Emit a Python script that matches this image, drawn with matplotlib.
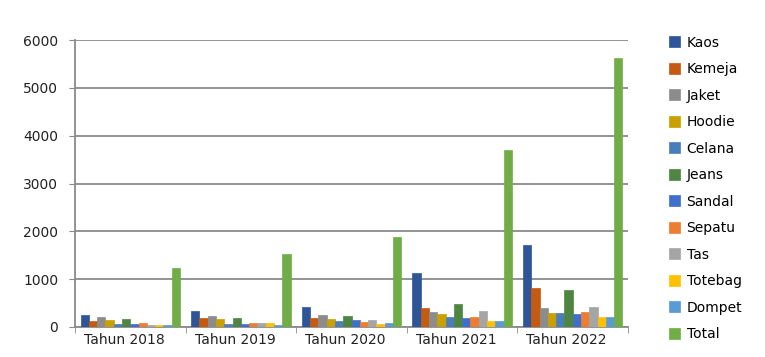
import matplotlib
matplotlib.use("Agg")
import matplotlib.pyplot as plt
import matplotlib.transforms as mtransforms
import numpy as np

years = ["Tahun 2018", "Tahun 2019", "Tahun 2020", "Tahun 2021", "Tahun 2022"]
series_names = ["Kaos", "Kemeja", "Jaket", "Hoodie", "Celana", "Jeans",
                "Sandal", "Sepatu", "Tas", "Totebag", "Dompet", "Total"]
kaos    = [250, 330, 420, 1130, 1710]
kemeja  = [130, 190, 190, 400, 810]
jaket   = [210, 230, 250, 320, 400]
hoodie  = [150, 170, 170, 280, 300]
celana  = [70, 70, 120, 210, 300]
jeans   = [170, 190, 230, 480, 770]
sandal  = [70, 70, 140, 190, 270]
sepatu  = [90, 90, 110, 200, 310]
tas     = [50, 80, 140, 330, 420]
totebag = [50, 90, 70, 130, 210]
dompet  = [40, 50, 90, 120, 210]
total   = [1240, 1530, 1890, 3700, 5630]
values = [kaos, kemeja, jaket, hoodie, celana, jeans, sandal, sepatu, tas, totebag, dompet, total]
colors = ["#2E5597", "#C55A11", "#8C8C8C", "#C9A000", "#4A7EBB", "#4E8542",
          "#3F6FCB", "#ED7D31", "#A5A5A5", "#FFC000", "#5B9BD5", "#70AD47"]

fig = plt.figure(figsize=(7.65, 3.57), dpi=100)
ax = fig.add_axes([75/765, 1-327/357, (628-75)/765, (327-40)/357])

n = len(series_names)
bw = 0.075
x = np.arange(len(years))
for i, (name, vals, c) in enumerate(zip(series_names, values, colors)):
    off = (i - (n - 1) / 2) * bw
    ax.bar(x + off, vals, width=bw, color=c, label=name,
           edgecolor=c, linewidth=0.5, zorder=3)

ax.set_ylim(0, 6000)
ax.set_xlim(-0.5, len(years) - 0.5)
ax.set_yticks(np.arange(0, 6001, 1000))
ax.yaxis.grid(True, color="#8a8a8a", linewidth=1.3, zorder=0)
ax.set_axisbelow(True)
for s in ["top", "right"]:
    ax.spines[s].set_visible(False)
ax.spines["left"].set_color("#8a8a8a")
ax.spines["left"].set_linewidth(1.3)
ax.spines["bottom"].set_color("#8a8a8a")
ax.spines["bottom"].set_linewidth(1.3)
ax.set_xticks(x)
ax.set_xticklabels(years, fontsize=10, color="#222222")
ax.set_xticks(np.arange(-0.5, len(years), 1), minor=True)
ax.tick_params(axis="x", which="major", length=0, pad=4)
ax.tick_params(axis="x", which="minor", length=4, color="#8a8a8a")
ax.tick_params(axis="y", length=4, color="#8a8a8a", labelsize=10, labelcolor="#222222", pad=8)
shift = mtransforms.ScaledTranslation(-6/100, 0, fig.dpi_scale_trans)
for lab in ax.get_xticklabels():
    lab.set_transform(lab.get_transform() + shift)

leg = fig.legend(loc="upper left", bbox_to_anchor=(663/765, 1-30/357), frameon=False,
                 fontsize=10, handlelength=0.8, handleheight=0.8, handletextpad=0.5,
                 labelspacing=0.9, borderaxespad=0)

fig.savefig("out.png", dpi=100)
